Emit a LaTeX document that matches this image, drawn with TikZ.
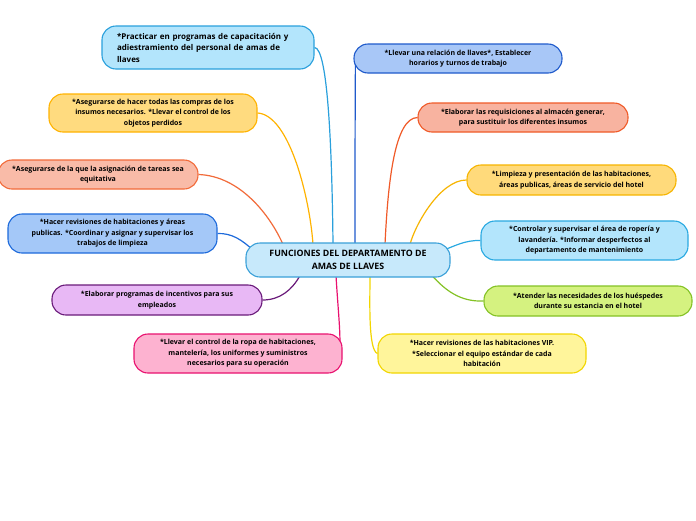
\documentclass[tikz,border=0pt]{standalone}
\usepackage{fontspec}
\setmainfont{Open Sans}
\usetikzlibrary{backgrounds}
\definecolor{bA}{HTML}{2AA0DC}\definecolor{fA}{HTML}{B3E5FC}
\definecolor{bB}{HTML}{FFB300}\definecolor{fB}{HTML}{FFDB7F}
\definecolor{bC}{HTML}{F26B3A}\definecolor{fC}{HTML}{F9BBA8}
\definecolor{bD}{HTML}{1D6ADB}\definecolor{fD}{HTML}{A4C8F8}
\definecolor{bE}{HTML}{6A1B7A}\definecolor{fE}{HTML}{E8B8F5}
\definecolor{bF}{HTML}{E9116F}\definecolor{fF}{HTML}{FDB2D0}
\definecolor{bM}{HTML}{3AA0D8}\definecolor{fM}{HTML}{C7E9FB}
\definecolor{bG}{HTML}{1F5ACB}\definecolor{fG}{HTML}{A8C7F7}
\definecolor{bH}{HTML}{F05A28}\definecolor{fH}{HTML}{F8B3A0}
\definecolor{bI}{HTML}{F7B500}\definecolor{fI}{HTML}{FFDA7B}
\definecolor{bJ}{HTML}{29A9E1}\definecolor{fJ}{HTML}{B3E5FC}
\definecolor{bK}{HTML}{84C225}\definecolor{fK}{HTML}{D5F280}
\definecolor{bL}{HTML}{F2D600}\definecolor{fL}{HTML}{FFF59B}
\tikzset{
  topic/.style={draw=#1, line width=1.1pt, rounded corners=14pt, inner sep=0pt,
    align=center, font=\fontsize{7}{10.6}\selectfont\bfseries},
  conn/.style={line width=1.2pt, draw=#1},
}
\begin{document}
\begin{tikzpicture}[x=1pt,y=-1pt]
\useasboundingbox (0,0) rectangle (696,520);
\node[topic=bA, fill=fA, minimum width=212pt, minimum height=43pt, align=left,
  text width=182pt, font=\fontsize{8}{11.5}\selectfont\bfseries] (n1) at (208,47.5)
  {*Practicar en programas de capacitación y\\adiestramiento del personal de amas de\\llaves};
\node[topic=bB, fill=fB, minimum width=208pt, minimum height=38pt] (n2) at (153,113)
  {*Asegurarse de hacer todas las compras de los\\insumos necesarios. *Llevar el control de los\\objetos perdidos};
\node[topic=bC, fill=fC, minimum width=200pt, minimum height=29pt] (n3) at (98,174.5)
  {*Asegurarse de la que la asignación de tareas sea\\equitativa};
\node[topic=bD, fill=fD, minimum width=209pt, minimum height=39pt] (n4) at (112.5,233.5)
  {*Hacer revisiones de habitaciones y áreas\\publicas. *Coordinar y asignar y supervisar los\\trabajos de limpieza};
\node[topic=bE, fill=fE, minimum width=210pt, minimum height=30pt] (n5) at (157,300)
  {*Elaborar programas de incentivos para sus\\empleados};
\node[topic=bF, fill=fF, minimum width=208pt, minimum height=39pt] (n6) at (238,353.5)
  {*Llevar el control de la ropa de habitaciones,\\mantelería, los uniformes y suministros\\necesarios para su operación};
\node[topic=bM, fill=fM, minimum width=204pt, minimum height=34pt,
  font=\fontsize{8.8}{12.5}\selectfont\bfseries] (c) at (348,260)
  {FUNCIONES DEL DEPARTAMENTO DE\\AMAS DE LLAVES};
\node[topic=bG, fill=fG, minimum width=208pt, minimum height=29pt] (n7) at (458,58.5)
  {*Llevar una relación de llaves*, Establecer\\horarios y turnos de trabajo};
\node[topic=bH, fill=fH, minimum width=210pt, minimum height=29pt] (n8) at (523,117.5)
  {*Elaborar las requisiciones al almacén generar,\\para sustituir los diferentes insumos};
\node[topic=bI, fill=fI, minimum width=209pt, minimum height=30pt] (n9) at (571.5,180)
  {*Limpieza y presentación de las habitaciones,\\áreas publicas, áreas de servicio del hotel};
\node[topic=bJ, fill=fJ, minimum width=207pt, minimum height=39pt] (n10) at (584.5,240.5)
  {*Controlar y supervisar el área de ropería y\\lavandería. *Informar desperfectos al\\departamento de mantenimiento};
\node[topic=bK, fill=fK, minimum width=208pt, minimum height=30pt] (n11) at (588,301)
  {*Atender las necesidades de los huéspedes\\durante su estancia en el hotel};
\node[topic=bL, fill=fL, minimum width=208pt, minimum height=39pt] (n12) at (482,353.5)
  {*Hacer revisiones de las habitaciones VIP.\\*Seleccionar el equipo estándar de cada\\habitación};
\begin{scope}[on background layer]
\fill[white] (0,0) rectangle (696,520);
\draw[conn=bA] (n1.east) .. controls (328,48) and (332,150) .. ([xshift=-15pt,yshift=-2pt]c.north);
\draw[conn=bB] (n2.east) .. controls (290,115) and (310,200) .. ([xshift=-35pt,yshift=-2pt]c.north);
\draw[conn=bC] (n3.east) .. controls (240,176) and (270,215) .. ([xshift=-65pt,yshift=-2pt]c.north);
\draw[conn=bD] (n4.east) .. controls (232,233) and (242,240) .. ([shift={(8pt,-8pt)}]c.north west);
\draw[conn=bE] (n5.east) .. controls (280,300) and (292,290) .. ([xshift=-48pt,yshift=2pt]c.south);
\draw[conn=bF] ([xshift=-12pt,yshift=2pt]c.south) .. controls (338,310) and (341,335) .. ([shift={(-3pt,3pt)}]n6.east);
\draw[conn=bG] ([xshift=2pt]n7.west) .. controls (355,120) and (355,200) .. ([xshift=7pt,yshift=-2pt]c.north);
\draw[conn=bH] (n8.west) .. controls (395,118) and (388,180) .. ([xshift=37pt,yshift=-2pt]c.north);
\draw[conn=bI] (n9.west) .. controls (440,180) and (415,225) .. ([xshift=62pt,yshift=-2pt]c.north);
\draw[conn=bJ] (n10.west) .. controls (465,240) and (455,246) .. ([shift={(-8pt,-8pt)}]c.north east);
\draw[conn=bK] (n11.west) .. controls (460,302) and (445,290) .. ([xshift=84pt,yshift=2pt]c.south);
\draw[conn=bL] (n12.west) .. controls (368,350) and (370,300) .. ([xshift=22pt,yshift=2pt]c.south);
\end{scope}
\end{tikzpicture}
\end{document}
